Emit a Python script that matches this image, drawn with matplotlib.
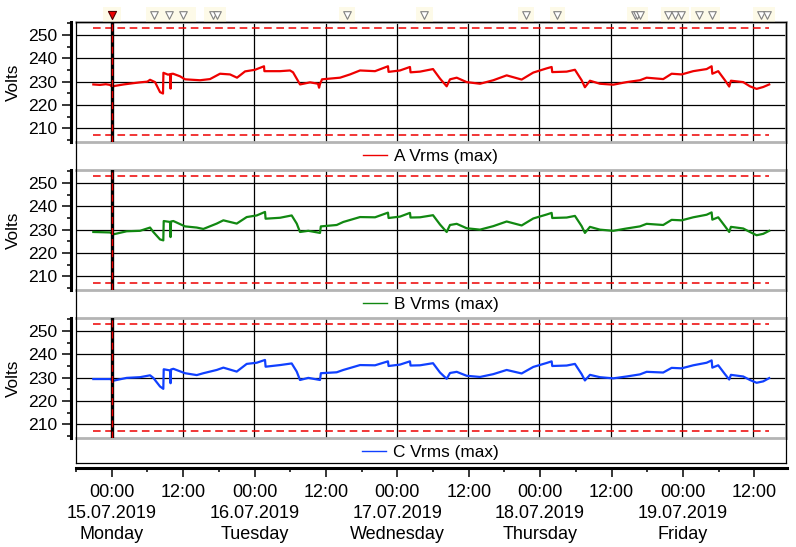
import pandas as pd
import matplotlib
matplotlib.use('Agg')
import matplotlib.pyplot as plt
import matplotlib.dates as mdates
from matplotlib.lines import Line2D

plt.rcParams['font.family'] = ['Liberation Sans', 'DejaVu Sans']

W, H = 796, 547
START = pd.Timestamp('2019-07-15 00:00')

# ---------------- data (hours since 15.07.2019 00:00, volts) ----------------
a_hours = [-3.1, -2.0, -1.0, -0.29, 0.05, 0.56, 2.0, 3.5, 4.76, 6.0, 6.45, 7.29, 8.13, 8.63, 8.70,
           9.47, 9.81, 9.90, 9.98, 10.32, 11.49, 12.34, 14.86, 16.54, 18.23, 19.91, 21.09, 22.44,
           24.12, 25.63, 25.70, 28.33, 30.01, 30.52, 31.70, 33.38, 34.73, 34.90, 35.06, 35.40,
           38.43, 40.11, 41.79, 44.32, 46.50, 46.60, 48.52, 50.20, 50.30, 51.89, 54.08, 55.26,
           56.38, 56.94, 58.07, 59.75, 61.99, 64.22, 66.48, 69.00, 70.96, 73.21, 74.05, 74.15,
           76.58, 77.97, 79.10, 79.65, 80.50, 82.18, 84.42, 86.67, 88.91, 90.04, 92.83, 94.25,
           95.93, 97.88, 100.14, 100.98, 101.10, 102.09, 103.22, 103.94, 104.23, 106.30, 107.43,
           108.55, 109.66, 110.67]
a_volts = [228.8, 228.6, 228.9, 228.6, 227.8, 228.2, 228.8, 229.3, 229.7, 230.0, 230.8, 229.8,
           225.5, 224.9, 233.8, 233.0, 233.2, 227.0, 233.3, 233.4, 232.3, 231.0, 230.6, 231.1,
           233.4, 233.1, 231.7, 234.4, 235.1, 236.6, 234.5, 234.5, 234.8, 234.0, 228.8, 229.7,
           229.1, 227.4, 229.0, 231.0, 231.7, 233.1, 234.8, 234.5, 236.6, 234.2, 234.8, 236.3,
           234.0, 234.3, 235.4, 231.3, 228.0, 231.0, 231.7, 229.8, 229.1, 230.6, 232.7, 230.9,
           233.9, 235.7, 236.3, 234.1, 234.3, 235.1, 230.6, 227.6, 230.4, 229.1, 228.7, 229.8,
           230.6, 231.7, 231.1, 233.4, 233.1, 234.5, 235.4, 236.6, 233.4, 234.5, 230.6, 227.9,
           230.4, 229.8, 228.0, 226.9, 227.7, 228.8]

b_hours = [-3.1, -0.29, 0.27, 2.52, 4.76, 6.45, 7.0, 8.13, 8.68, 8.75, 9.81, 9.90, 9.98, 10.37,
           12.34, 14.31, 15.42, 17.67, 18.79, 21.04, 22.72, 24.40, 25.80, 25.90, 28.33, 30.29,
           31.14, 31.69, 33.09, 35.06, 35.20, 37.87, 38.98, 41.79, 44.32, 46.50, 46.60, 48.52,
           50.20, 50.30, 51.89, 54.08, 55.26, 56.38, 56.94, 58.07, 59.75, 61.99, 64.22, 66.48,
           69.00, 70.96, 73.21, 74.05, 74.15, 76.58, 77.97, 79.10, 79.65, 80.50, 82.18, 84.42,
           86.67, 88.91, 90.04, 92.83, 94.25, 95.93, 97.88, 100.14, 100.98, 101.10, 102.09,
           103.22, 103.94, 104.23, 106.30, 107.43, 108.55, 109.66, 110.67]
b_volts = [229.0, 228.8, 228.0, 229.3, 229.5, 230.9, 229.0, 225.8, 225.4, 233.7, 233.3, 226.8,
           233.5, 233.7, 231.4, 230.9, 230.3, 232.6, 234.0, 232.6, 235.4, 236.1, 237.6, 234.7,
           235.1, 236.1, 232.6, 229.0, 229.5, 228.6, 231.4, 232.0, 233.3, 235.4, 235.3, 237.3,
           235.0, 235.6, 237.2, 235.2, 235.3, 236.2, 232.2, 229.0, 232.0, 232.5, 230.6, 230.0,
           231.5, 233.5, 231.8, 234.8, 236.5, 237.2, 235.0, 235.2, 235.9, 231.5, 228.6, 231.2,
           230.0, 229.5, 230.5, 231.4, 232.5, 232.0, 234.2, 234.0, 235.3, 236.4, 237.4, 234.3,
           235.3, 231.5, 229.0, 231.2, 230.5, 229.0, 227.6, 228.2, 229.5]

c_hours = [-3.1, -0.29, 0.27, 2.52, 4.76, 6.45, 7.0, 8.13, 8.68, 8.75, 9.81, 9.90, 9.98, 10.37,
           12.34, 14.31, 15.42, 17.67, 18.79, 21.04, 22.72, 24.40, 25.80, 25.90, 28.33, 30.29,
           31.14, 31.69, 33.09, 35.06, 35.20, 37.87, 38.98, 41.79, 44.32, 46.50, 46.60, 48.52,
           50.20, 50.30, 51.89, 54.08, 55.26, 56.38, 56.94, 58.07, 59.75, 61.99, 64.22, 66.48,
           69.00, 70.96, 73.21, 74.05, 74.15, 76.58, 77.97, 79.10, 79.65, 80.50, 82.18, 84.42,
           86.67, 88.91, 90.04, 92.83, 94.25, 95.93, 97.88, 100.14, 100.98, 101.10, 102.09,
           103.22, 103.94, 104.23, 106.30, 107.43, 108.55, 109.66, 110.67]
c_volts = [229.4, 229.4, 228.7, 229.9, 230.2, 231.0, 229.9, 226.2, 225.2, 233.6, 233.1, 227.6,
           233.5, 233.8, 231.9, 231.1, 231.9, 233.3, 234.3, 232.6, 235.9, 236.4, 237.6, 234.7,
           235.4, 236.1, 232.6, 229.0, 229.9, 229.0, 231.9, 232.3, 233.3, 235.4, 235.3, 237.0,
           235.0, 235.6, 237.0, 235.2, 235.3, 236.2, 232.2, 229.5, 232.0, 232.5, 230.8, 230.3,
           231.5, 233.3, 231.8, 234.6, 236.3, 237.0, 235.0, 235.2, 235.9, 231.5, 228.8, 231.2,
           230.2, 229.7, 230.5, 231.4, 232.5, 232.2, 234.2, 234.0, 235.3, 236.4, 237.4, 234.3,
           235.3, 231.5, 229.2, 231.2, 230.5, 229.0, 227.8, 228.4, 229.8]

series_names = ['A Vrms (max)', 'B Vrms (max)', 'C Vrms (max)']
series_colors = ['#ee0000', '#118811', '#1040ff']

limit_high = 253
limit_low = 207
y_major = [210, 220, 230, 240, 250]
y_minor = [205, 215, 225, 235, 245, 255]
y_range = (204.1, 255.6)

x_major_hours = [0, 12, 24, 36, 48, 60, 72, 84, 96, 108]
x_minor_hours = [-6, 6, 18, 30, 42, 54, 66, 78, 90, 102]
x_labels = ['00:00\n15.07.2019\nMonday', '12:00',
            '00:00\n16.07.2019\nTuesday', '12:00',
            '00:00\n17.07.2019\nWednesday', '12:00',
            '00:00\n18.07.2019\nThursday', '12:00',
            '00:00\n19.07.2019\nFriday', '12:00']
x_range_hours = (-6.1, 113.5)

event_hours = [7.1, 9.6, 12.0, 17.0, 17.7, 39.6, 52.6, 69.7, 75.0, 88.1, 88.5, 88.9,
               93.6, 94.8, 95.9, 98.8, 101.1, 109.3, 110.3]
event_red_hours = [0.0]
glow_spans = [(-1.5, 1.5), (5.8, 14.2), (15.6, 19.2), (38.3, 40.9), (51.3, 54.0), (68.4, 71.0),
              (73.7, 76.3), (86.8, 90.3), (92.4, 97.2), (97.5, 102.4), (108.0, 111.6)]
cursor_hour = 0.0


def to_num(hours):
    return mdates.date2num((START + pd.to_timedelta(pd.Series(hours, dtype=float), unit='h')).dt.to_pydatetime())


def px_box(left, top, right, bottom):
    return [left / W, 1 - bottom / H, (right - left) / W, (bottom - top) / H]


fig = plt.figure(figsize=(W / 100, H / 100), dpi=100)
fig.patch.set_facecolor('white')

xlim = to_num(list(x_range_hours))
xmaj = to_num(x_major_hours)
xmin = to_num(x_minor_hours)

all_hours = [a_hours, b_hours, c_hours]
all_volts = [a_volts, b_volts, c_volts]
panel_tops = [22, 170, 318]
L, R = 75.5, 786
gray = '#b4b4b4'

for i in range(3):
    top = panel_tops[i]
    ax = fig.add_axes(px_box(L, top, R, top + 120))
    ax.set_xlim(xlim)
    ax.set_ylim(*y_range)
    x = to_num(all_hours[i])
    ax.plot(x, all_volts[i], color=series_colors[i], lw=1.6, zorder=4)
    t0, t1 = x.min(), x.max()
    ax.hlines([limit_high, limit_low], t0, t1, colors='#ee0000', lw=1.1,
              linestyles=(0, (5, 3)), zorder=3)
    cx = to_num([cursor_hour])[0]
    ax.axvline(cx, color='black', lw=2.4, zorder=5)
    ax.axvline(cx, color='#ee0000', lw=1.0, linestyle=(0, (5, 3)), zorder=6)
    ax.set_xticks(xmaj)
    ax.set_xticks(xmin, minor=True)
    ax.tick_params(axis='x', which='both', length=0, labelbottom=False)
    ax.set_yticks(y_major)
    ax.set_yticks(y_minor, minor=True)
    ax.grid(True, which='major', color='black', lw=0.9, zorder=1)
    ax.set_axisbelow(True)
    ax.tick_params(axis='y', which='major', length=6.8, width=1.1, pad=2.5, labelsize=12.6)
    ax.tick_params(axis='y', which='minor', length=2.6, width=1.1)
    ax.spines['left'].set_position(('outward', 3.6))
    ax.spines['left'].set_linewidth(2.2)
    for s in ['top', 'bottom', 'right']:
        ax.spines[s].set_color(gray)
        ax.spines[s].set_linewidth(2.0)
    h = Line2D([], [], color=series_colors[i], lw=1.0)
    ax.legend(handles=[h], labels=[series_names[i]], loc='center',
              bbox_to_anchor=(0.5, -0.117), frameon=False, fontsize=12.4,
              handlelength=1.4, handletextpad=0.4, borderpad=0)
    fig.text(13 / W, 1 - (top + 60) / H, 'Volts', rotation=90, ha='center', va='center', fontsize=12.4)

# outer frame
fr = fig.add_axes(px_box(L, 22, R, 462.5))
fr.set_facecolor('none')
fr.set_xticks([])
fr.set_yticks([])
for s in fr.spines.values():
    s.set_color('black')
    s.set_linewidth(0.9)
fr.set_zorder(10)

# event markers strip
ev = fig.add_axes(px_box(L, 7, R, 22))
ev.set_xlim(xlim)
ev.set_ylim(0, 1)
ev.axis('off')
for s0, s1 in glow_spans:
    a0, a1 = to_num([s0, s1])
    ev.axvspan(a0, a1, color='#fbf4cc', alpha=0.45, lw=0)
ev.scatter(to_num(event_hours), [0.45] * len(event_hours), marker='v', s=30,
           facecolors='white', edgecolors='#808080', linewidths=0.8, zorder=3)
ev.scatter(to_num(event_red_hours), [0.45], marker='v', s=34,
           facecolors='#ee0000', edgecolors='#500000', linewidths=0.8, zorder=3)

# shared time axis
xa = fig.add_axes(px_box(L, 462, R + 1, 467.5))
xa.set_facecolor('none')
xa.set_xlim(xlim)
xa.set_yticks([])
for s in ['top', 'left', 'right']:
    xa.spines[s].set_visible(False)
xa.spines['bottom'].set_linewidth(2.2)
xa.set_xticks(xmaj)
xa.set_xticklabels(x_labels, linespacing=1.3)
xa.set_xticks(xmin, minor=True)
xa.tick_params(axis='x', which='major', length=6.2, width=1.1, pad=6, labelsize=13)
xa.tick_params(axis='x', which='minor', length=3.2, width=1.1)

fig.savefig('out.png', dpi=100)
